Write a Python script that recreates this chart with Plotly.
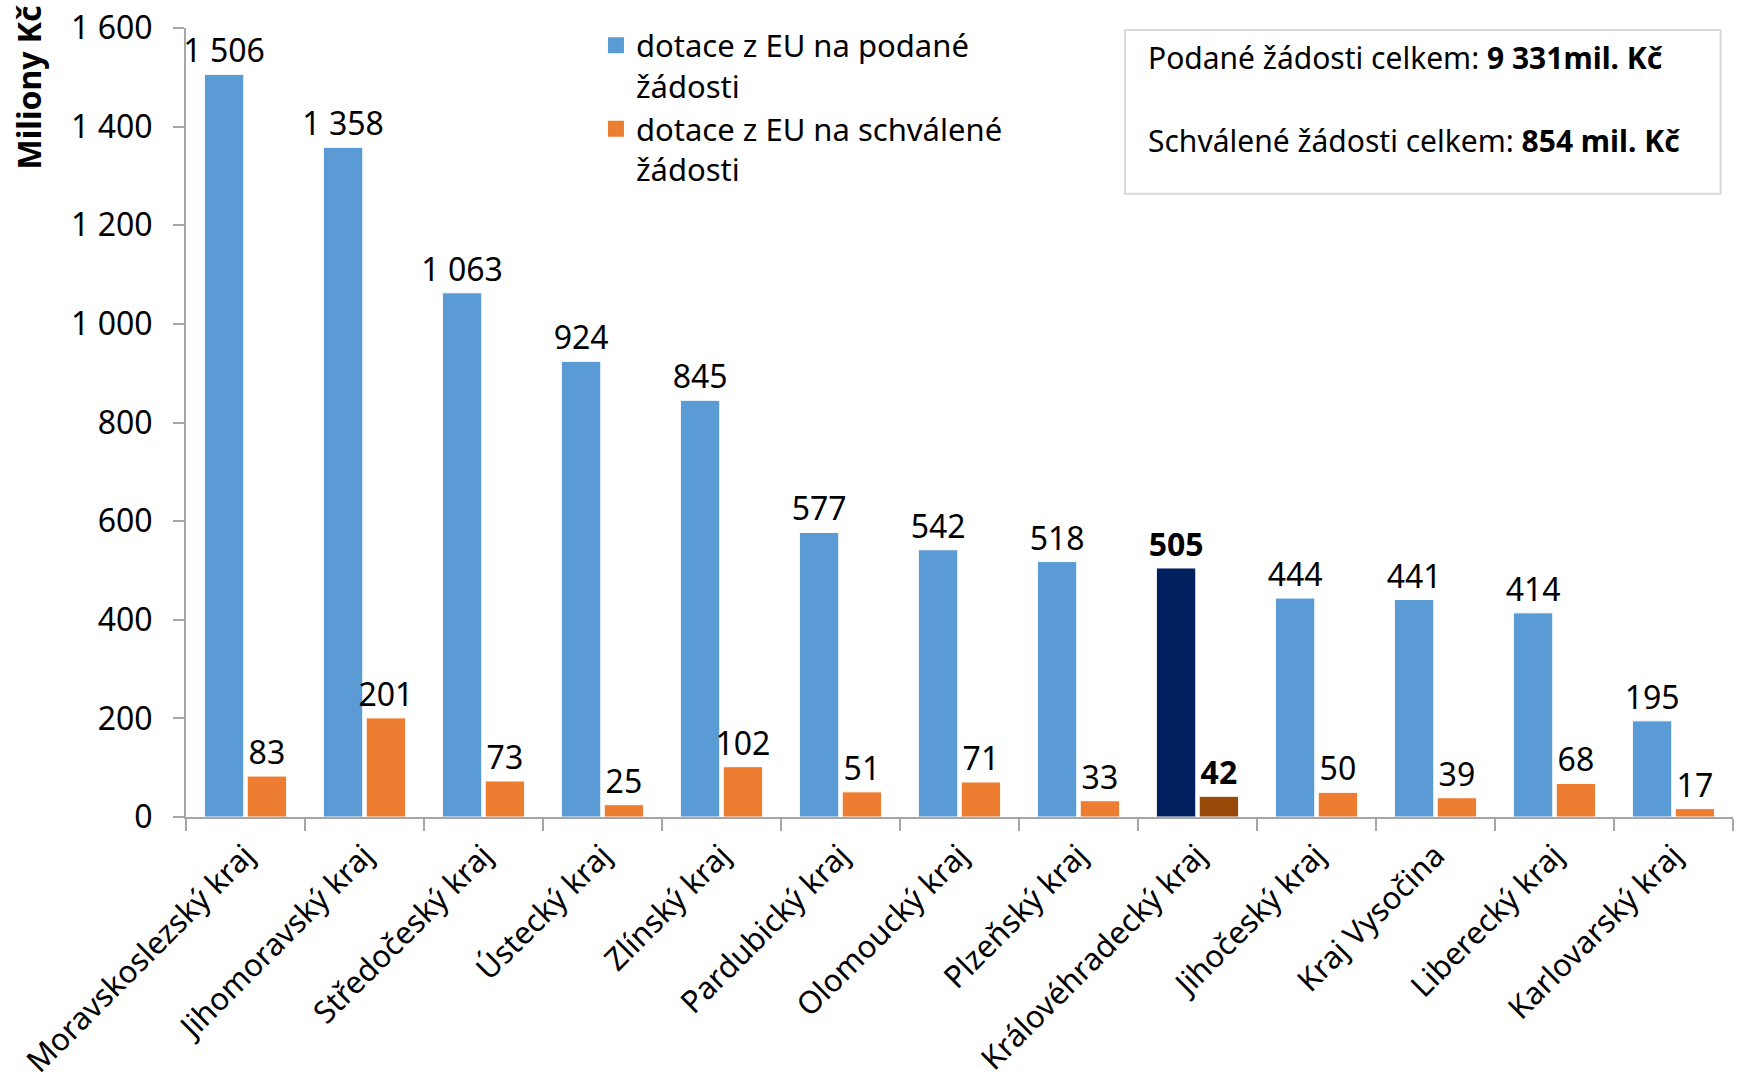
import plotly.graph_objects as go

categories = ["Moravskoslezský kraj", "Jihomoravský kraj", "Středočeský kraj", "Ústecký kraj",
              "Zlínský kraj", "Pardubický kraj", "Olomoucký kraj", "Plzeňský kraj",
              "Královéhradecký kraj", "Jihočeský kraj", "Kraj Vysočina", "Liberecký kraj",
              "Karlovarský kraj"]
podane = [1506, 1358, 1063, 924, 845, 577, 542, 518, 505, 444, 441, 414, 195]
schvalene = [83, 201, 73, 25, 102, 51, 71, 33, 42, 50, 39, 68, 17]
highlight = "Královéhradecký kraj"
series_names = ["dotace z EU na podané<br>žádosti", "dotace z EU na schválené<br>žádosti"]
y_title = "Miliony Kč"
box_lines = [("Podané žádosti celkem: ", "9 331mil. Kč"),
             ("Schválené žádosti celkem: ", "854 mil. Kč")]

FONT = "Noto Sans"
BLUE, ORANGE = "#5B9BD5", "#ED7D31"
BLUE_HI, ORANGE_HI = "#002060", "#984807"
AXIS = "#A6A6A6"


def fmt(v):
    return f"{v:,}".replace(",", " ")


def labels(vals):
    return [f"<b>{fmt(v)}</b>" if c == highlight else fmt(v) for c, v in zip(categories, vals)]


fig = go.Figure()
for vals, base, hi in [(podane, BLUE, BLUE_HI), (schvalene, ORANGE, ORANGE_HI)]:
    fig.add_trace(go.Bar(
        x=categories, y=vals,
        marker=dict(color=[hi if c == highlight else base for c in categories],
                    line=dict(color="white", width=1)),
        text=labels(vals), textposition="outside", constraintext="none",
        textfont=dict(family=FONT, size=32, color="black"),
        cliponaxis=False, showlegend=False, hoverinfo="x+y",
    ))

# legend proxies
for name, col in zip(series_names, [BLUE, ORANGE]):
    fig.add_trace(go.Scatter(x=[None], y=[None], mode="markers", name=name,
                             marker=dict(symbol="square", size=16, color=col)))

fig.update_layout(
    width=1742, height=1091,
    margin=dict(l=186, r=9, t=28, b=274, autoexpand=False),
    paper_bgcolor="white", plot_bgcolor="white",
    barmode="group", bargap=0.28, bargroupgap=0.08,
    separators=", ",
    font=dict(family=FONT, size=32, color="black"),
    legend=dict(x=0.265, y=1.012, xanchor="left", yanchor="top", valign="top",
                font=dict(family=FONT, size=31, color="black"),
                bgcolor="rgba(0,0,0,0)", itemwidth=30, tracegroupgap=10),
    xaxis=dict(showline=True, linecolor=AXIS, linewidth=2, ticks="outside",
               tickson="boundaries", ticklen=12, tickcolor=AXIS, tickwidth=2,
               tickangle=-45, tickfont=dict(family=FONT, size=31, color="black"),
               ticklabelstandoff=6, showgrid=False, automargin=False),
    yaxis=dict(range=[0, 1600], tickvals=list(range(0, 1601, 200)), tickformat=",d",
               showline=True, linecolor=AXIS, linewidth=2, ticks="outside",
               ticklen=11, tickcolor=AXIS, tickwidth=2, showgrid=False, zeroline=False,
               tickfont=dict(family=FONT, size=32, color="black"),
               ticklabelstandoff=14, automargin=False),
)

fig.add_annotation(xref="paper", yref="paper", x=-0.102, y=0.925, xanchor="center",
                   yanchor="middle", textangle=-90, showarrow=False,
                   text=f"<b>{y_title}</b>", font=dict(family=FONT, size=32, color="black"))

fig.add_shape(type="rect", xref="paper", yref="paper",
              x0=0.607, x1=0.992, y0=0.79, y1=0.9975,
              line=dict(color="#D9D9D9", width=2), fillcolor="white", layer="below")
for (plain, bold), yy in zip(box_lines, [0.963, 0.858]):
    fig.add_annotation(xref="paper", yref="paper", x=0.6206, y=yy, xanchor="left",
                       yanchor="middle", showarrow=False, align="left",
                       text=f"{plain}<b>{bold}</b>",
                       font=dict(family=FONT, size=30, color="black"))

fig.write_html("out.html", config={"displayModeBar": False},
               post_script="document.body.style.margin='0';")
